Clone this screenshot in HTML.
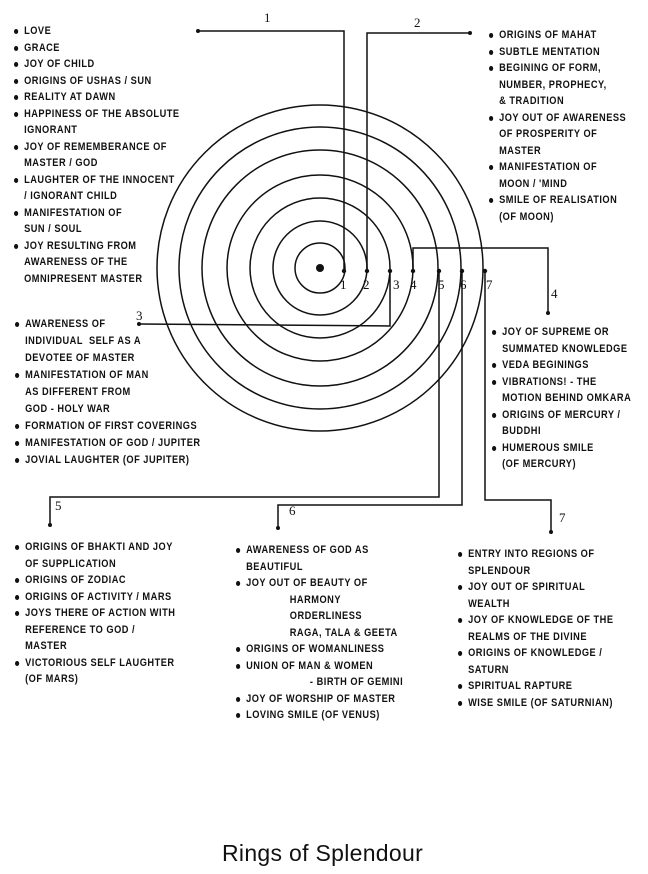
<!DOCTYPE html>
<html><head><meta charset="utf-8"><style>
html,body{margin:0;padding:0;background:#fff;}
body{width:648px;height:874px;position:relative;overflow:hidden;font-family:"Liberation Sans",sans-serif;}
.col{position:absolute;font-weight:bold;font-size:11px;letter-spacing:0.6px;line-height:16.5px;transform:scaleX(0.84);transform-origin:0 0;white-space:nowrap;color:#111;}
.col div{position:relative;padding-left:12px;height:16.5px;}
.col div.b::before{content:"";position:absolute;left:0;top:6px;width:5px;height:5px;border-radius:50%;background:#111;}
.title{position:absolute;left:222px;top:840px;font-size:23px;color:#111;letter-spacing:0.3px;}
svg{position:absolute;left:0;top:0;}
svg text{font-family:"Liberation Serif",serif;font-size:13px;fill:#111;}
</style></head><body>
<svg width="648" height="874" viewBox="0 0 648 874">
<g fill="none" stroke="#111" stroke-width="1.5">
<circle cx="320" cy="268" r="25"/>
<circle cx="320" cy="268" r="47"/>
<circle cx="320" cy="268" r="70"/>
<circle cx="320" cy="268" r="93"/>
<circle cx="320" cy="268" r="118"/>
<circle cx="320" cy="268" r="141"/>
<circle cx="320" cy="268" r="163"/>
<polyline points="198,31 344,31 344,271"/>
<polyline points="367,271 367,33 470,33"/>
<polyline points="390,271 390,326 139,324"/>
<polyline points="413,271 413,248 548,248 548,313"/>
<polyline points="439,271 439,497 50,497 50,525"/>
<polyline points="462,271 462,505 278,505 278,528"/>
<polyline points="485,271 485,500 551,500 551,532"/>
</g>
<g fill="#111">
<circle cx="320" cy="268" r="4"/>
<circle cx="198" cy="31" r="2"/><circle cx="470" cy="33" r="2"/><circle cx="139" cy="324" r="2"/>
<circle cx="548" cy="313" r="2"/><circle cx="50" cy="525" r="2"/><circle cx="278" cy="528" r="2"/><circle cx="551" cy="532" r="2"/>
<circle cx="344" cy="271" r="2.2"/><circle cx="367" cy="271" r="2.2"/><circle cx="390" cy="271" r="2.2"/><circle cx="413" cy="271" r="2.2"/><circle cx="439" cy="271" r="2.2"/><circle cx="462" cy="271" r="2.2"/><circle cx="485" cy="271" r="2.2"/>
</g>
<text x="340" y="289">1</text><text x="363" y="289">2</text><text x="393" y="289">3</text><text x="410" y="289">4</text><text x="438" y="289">5</text><text x="460" y="289">6</text><text x="486" y="289">7</text>
<text x="264" y="22">1</text><text x="414" y="27">2</text><text x="136" y="320">3</text><text x="551" y="298">4</text>
<text x="55" y="510">5</text><text x="289" y="515">6</text><text x="559" y="522">7</text>
</svg>

<div class="col" style="left:14px;top:23px">
<div class="b">LOVE</div><div class="b">GRACE</div><div class="b">JOY OF CHILD</div><div class="b">ORIGINS OF USHAS / SUN</div><div class="b">REALITY AT DAWN</div><div class="b">HAPPINESS OF THE ABSOLUTE</div><div>IGNORANT</div><div class="b">JOY OF REMEMBERANCE OF</div><div>MASTER / GOD</div><div class="b">LAUGHTER OF THE INNOCENT</div><div>/ IGNORANT CHILD</div><div class="b">MANIFESTATION OF</div><div>SUN / SOUL</div><div class="b">JOY RESULTING FROM</div><div>AWARENESS OF THE</div><div>OMNIPRESENT MASTER</div>
</div>

<div class="col" style="left:489px;top:27px">
<div class="b">ORIGINS OF MAHAT</div><div class="b">SUBTLE MENTATION</div><div class="b">BEGINING OF FORM,</div><div>NUMBER, PROPHECY,</div><div>&amp; TRADITION</div><div class="b">JOY OUT OF AWARENESS</div><div>OF PROSPERITY OF</div><div>MASTER</div><div class="b">MANIFESTATION OF</div><div>MOON / 'MIND</div><div class="b">SMILE OF REALISATION</div><div>(OF MOON)</div>
</div>

<div class="col" style="left:492px;top:324px">
<div class="b">JOY OF SUPREME OR</div><div>SUMMATED KNOWLEDGE</div><div class="b">VEDA BEGININGS</div><div class="b">VIBRATIONS! - THE</div><div>MOTION BEHIND OMKARA</div><div class="b">ORIGINS OF MERCURY /</div><div>BUDDHI</div><div class="b">HUMEROUS SMILE</div><div>(OF MERCURY)</div>
</div>

<div class="col" style="left:15px;top:316px;line-height:17px">
<div class="b" style="height:17px">AWARENESS OF</div><div style="height:17px">INDIVIDUAL &nbsp;SELF AS A</div><div style="height:17px">DEVOTEE OF MASTER</div><div class="b" style="height:17px">MANIFESTATION OF MAN</div><div style="height:17px">AS DIFFERENT FROM</div><div style="height:17px">GOD - HOLY WAR</div><div class="b" style="height:17px">FORMATION OF FIRST COVERINGS</div><div class="b" style="height:17px">MANIFESTATION OF GOD / JUPITER</div><div class="b" style="height:17px">JOVIAL LAUGHTER (OF JUPITER)</div>
</div>

<div class="col" style="left:15px;top:539px">
<div class="b">ORIGINS OF BHAKTI AND JOY</div><div>OF SUPPLICATION</div><div class="b">ORIGINS OF ZODIAC</div><div class="b">ORIGINS OF ACTIVITY / MARS</div><div class="b">JOYS THERE OF ACTION WITH</div><div>REFERENCE TO GOD /</div><div>MASTER</div><div class="b">VICTORIOUS SELF LAUGHTER</div><div>(OF MARS)</div>
</div>

<div class="col" style="left:236px;top:542px">
<div class="b">AWARENESS OF GOD AS</div><div>BEAUTIFUL</div><div class="b">JOY OUT OF BEAUTY OF</div><div style="padding-left:64px">HARMONY</div><div style="padding-left:64px">ORDERLINESS</div><div style="padding-left:64px">RAGA, TALA &amp; GEETA</div><div class="b">ORIGINS OF WOMANLINESS</div><div class="b">UNION OF MAN &amp; WOMEN</div><div style="padding-left:88px">- BIRTH OF GEMINI</div><div class="b">JOY OF WORSHIP OF MASTER</div><div class="b">LOVING SMILE (OF VENUS)</div>
</div>

<div class="col" style="left:458px;top:546px">
<div class="b">ENTRY INTO REGIONS OF</div><div>SPLENDOUR</div><div class="b">JOY OUT OF SPIRITUAL</div><div>WEALTH</div><div class="b">JOY OF KNOWLEDGE OF THE</div><div>REALMS OF THE DIVINE</div><div class="b">ORIGINS OF KNOWLEDGE /</div><div>SATURN</div><div class="b">SPIRITUAL RAPTURE</div><div class="b">WISE SMILE (OF SATURNIAN)</div>
</div>

<div class="title">Rings of Splendour</div>
</body></html>
